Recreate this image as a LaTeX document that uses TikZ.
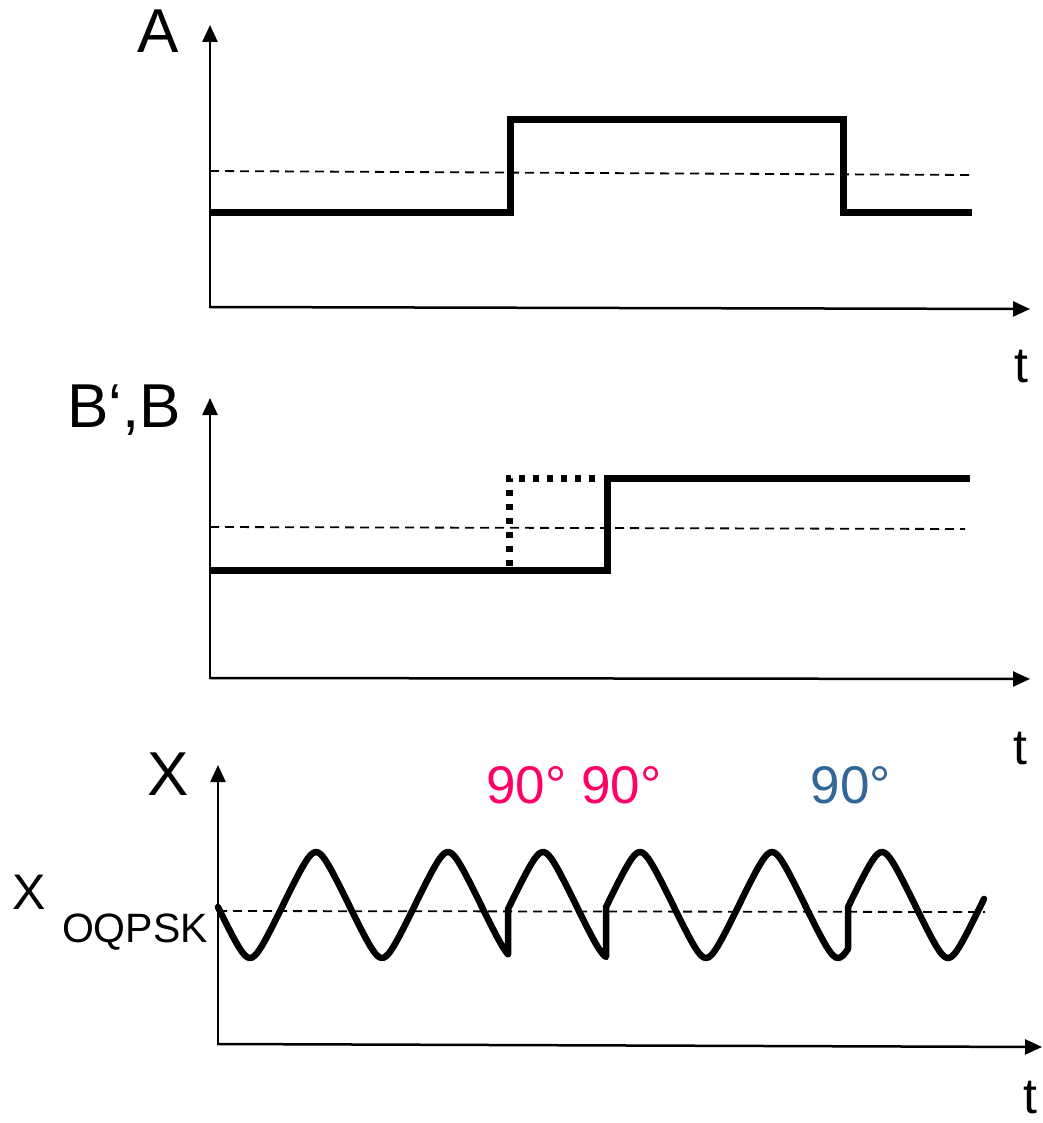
\documentclass[tikz,border=0pt]{standalone}
\usepackage{fontspec}
\setmainfont{Liberation Sans}
\usetikzlibrary{arrows.meta}
\definecolor{magentared}{RGB}{255,0,102}
\definecolor{steelblue}{RGB}{51,102,153}
\begin{document}
\begin{tikzpicture}[x=1pt,y=-1pt,
  axis/.style={line width=2.5pt,-{Triangle[length=17pt,width=15pt]}},
  signal/.style={line width=7pt,line join=miter,line cap=butt},
  dotsig/.style={line width=7pt,line cap=butt,dash pattern=on 6pt off 8pt},
  thresh/.style={line width=1.8pt,dash pattern=on 9pt off 6pt},
  wave/.style={line width=6.5pt,line join=round,line cap=round},
  biglbl/.style={font=\fontsize{62}{70}\selectfont,anchor=base,inner sep=0pt},
  tlbl/.style={font=\fontsize{50}{56}\selectfont,anchor=base,inner sep=0pt},
  deglbl/.style={font=\fontsize{53}{60}\selectfont,anchor=base,inner sep=0pt},
  declare function={tw(\t)=905+53*asin(0.9*cos(\t))/64.16;}]
\useasboundingbox (0,0) rectangle (1042,1123);

% ---------- Panel A ----------
\coordinate (oA) at (210,308);
\coordinate (yA) at (210,25);
\coordinate (xA) at (1030,309);
\draw[axis] (oA) -- (yA);
\draw[axis] (210,307) -- (xA);
\node[biglbl] (labA) at (158,53) {A};
\node[tlbl] (tA) at (1021,382) {t};
\draw[thresh] (210,171) -- (970,175);
\draw[signal] (210,213) -- (510,213) -- (510,120) -- (843,120) -- (843,213) -- (972,213);

% ---------- Panel B ----------
\coordinate (oB) at (210,679);
\coordinate (yB) at (210,398);
\coordinate (xB) at (1030,679);
\draw[axis] (oB) -- (yB);
\draw[axis] (210,678) -- (xB);
\node[biglbl] (labB) at (124,427) {B‘,B};
\node[tlbl] (tB) at (1020,764) {t};
\draw[thresh] (210,527) -- (965,529);
\draw[dotsig] (509,566) -- (509,478) -- (600,478);
\draw[signal] (210,570) -- (607,570) -- (607,478) -- (970,478);

% ---------- Panel X ----------
\coordinate (oX) at (218,1045);
\coordinate (yX) at (218,765);
\coordinate (xX) at (1042,1047);
\draw[axis] (oX) -- (yX);
\draw[axis] (218,1044) -- (xX);
\node[biglbl] (labX) at (168,795) {X};
\node[font=\fontsize{50}{56}\selectfont,anchor=base,inner sep=0pt] (labXo) at (29,909) {X};
\node[font=\fontsize{41}{46}\selectfont,anchor=base,inner sep=0pt] (labsub) at (135,942) {OQPSK};
\node[tlbl] (tX) at (1030,1113) {t};
\node[deglbl,text=magentared] (deg1) at (574,803) {90° 90°};
\node[deglbl,text=steelblue] (deg2) at (851,803) {90°};
\draw[thresh] (218,911) -- (985,912);
\draw[wave]
  plot[domain=218:508,samples=120] (\x,{tw(2.72727*(\x-250))})
  -- plot[domain=508:606,samples=45] (\x,{tw(2.72727*(\x-477))})
  -- plot[domain=606:848,samples=100] (\x,{tw(2.72727*(\x-574))})
  -- plot[domain=848:984,samples=60] (\x,{tw(2.72727*(\x-816))});
\end{tikzpicture}
\end{document}
